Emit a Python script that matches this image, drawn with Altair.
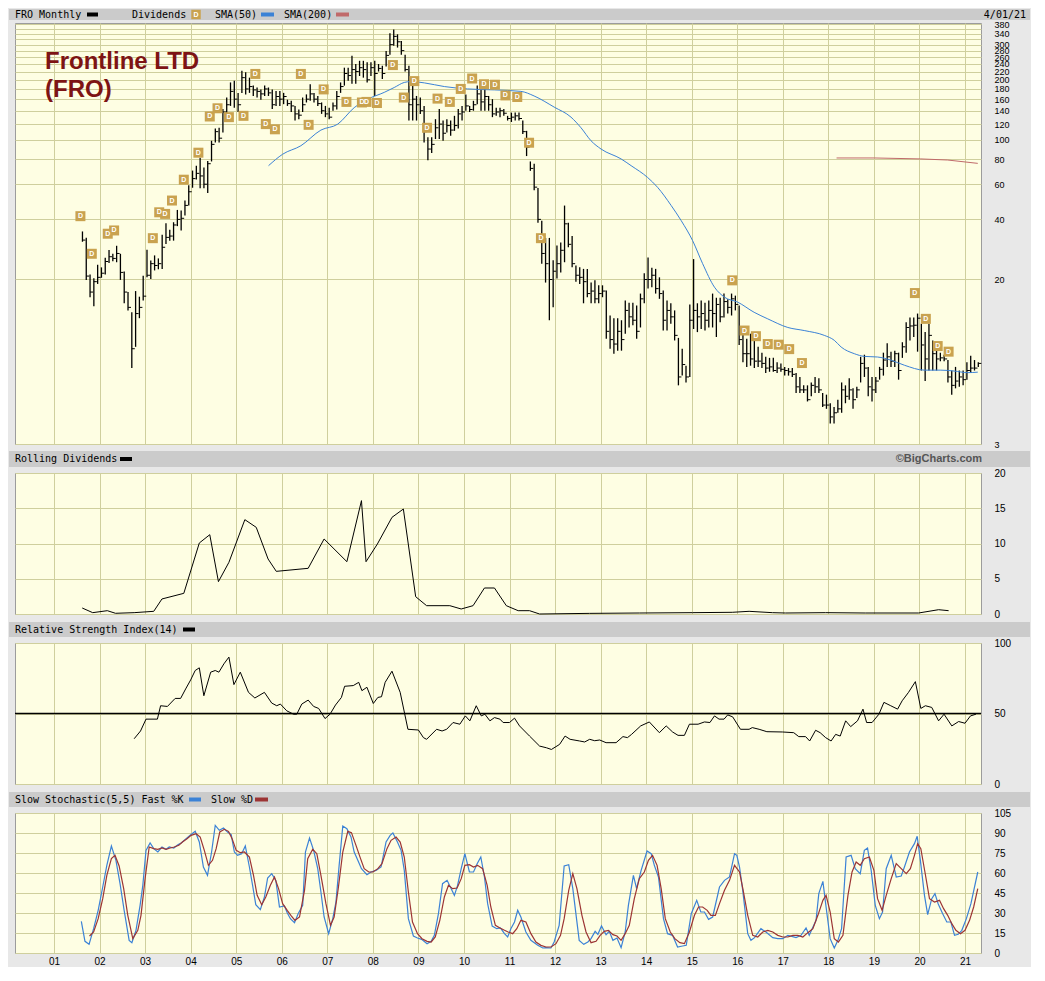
import altair as alt
import pandas as pd

# ---------------- data ----------------
# monthly bars, Aug 2001 .. Apr 2021
high = [
    34.8, 32.4, 21.2, 20.3, 23.7,
    23.0, 25.7, 28.1, 26.9, 29.5, 26.9, 21.9, 17.3, 13.7, 17.5, 16.4, 20.9,
    28.2, 24.9, 26.4, 25.5, 33.5, 38.3, 35.5, 38.7, 44.6, 44.3, 49.7, 59.2,
    70.2, 74.3, 81.5, 72.7, 78.5, 99, 114, 115, 143, 163, 194, 198,
    172, 222, 218, 205, 187, 183, 179, 187, 183, 179, 176, 176,
    172, 159, 157, 148, 142, 163, 169, 190, 172, 166, 154, 148,
    145, 154, 176, 194, 230, 230, 264, 240, 249, 249, 245, 245,
    249, 240, 235, 279, 342, 357, 338, 313, 267, 235, 198, 166,
    163, 148, 103, 103, 127, 143, 125, 127, 125, 132, 143, 148,
    169, 148, 157, 187, 191, 187, 166, 160, 145, 145, 143, 132,
    137, 137, 137, 125, 111, 78, 76, 57.5, 39.4, 32.3, 32.3, 25,
    29.6, 30.6, 46.9, 38.5, 33, 23.5, 23, 22.6, 22.6, 19.3, 19.8, 18.7,
    18.7, 17.6, 13.2, 12.8, 12.8, 12.5, 15.7, 15.3, 15.3, 14.8, 17, 21.5,
    25.8, 22.9, 22.6, 20.5, 17.6, 15.7, 15.2, 14, 10.2, 9, 7.4, 15,
    25.3, 15.2, 15.7, 15.3, 15.7, 17, 16.2, 16.2, 17, 15.9, 17, 16.6,
    14.8, 10.7, 10.1, 10.7, 9.9, 9.2, 8.6, 8.2, 8.1, 8.1, 7.7, 7.6,
    7.3, 7.2, 7.2, 6.8, 6.5, 5.9, 5.9, 6.1, 6.5, 6.4, 5.4, 5.3,
    4.8, 4.6, 5.0, 6.1, 5.9, 6.4, 5.7, 5.8, 8.2, 8.4, 7.3, 6.5,
    6.5, 7.3, 8.6, 9.6, 8.7, 8.8, 8.6, 9.7, 12.2, 12.9, 12.9, 13.5,
    12, 10.9, 12, 9.9, 9.4, 8.6, 8.4, 7.9, 7.0, 7.3, 7.0, 7.0,
    7.7, 8.3, 7.9, 7.7,
]
low = [
    30.9, 19.9, 16.3, 14.7, 19.0,
    20.4, 21.2, 24.2, 24.7, 24.4, 19.9, 15.2, 14.0, 7.2, 9.2, 12.8, 15.7,
    20.5, 20.1, 22.2, 22.5, 22.6, 30.1, 31.3, 31.3, 37.0, 35.2, 41.8, 46.9,
    57.6, 63.4, 57.3, 57.3, 54.2, 78, 97, 97, 109, 135, 148, 145,
    138, 172, 169, 172, 166, 163, 159, 166, 166, 143, 148, 148,
    151, 148, 138, 125, 127, 138, 154, 157, 154, 148, 135, 130,
    127, 140, 142, 172, 187, 198, 191, 191, 209, 205, 194, 209,
    166, 220, 202, 233, 267, 296, 290, 267, 220, 125, 125, 125,
    135, 97, 79, 86, 101, 101, 99, 109, 105, 111, 114, 125,
    140, 138, 140, 151, 140, 140, 140, 130, 132, 130, 132, 125,
    123, 125, 125, 107, 83, 70, 56, 38.5, 24, 19.3, 12.5, 14.5,
    20.2, 21.7, 24.4, 29, 23, 19.5, 19, 15.2, 16.3, 15.2, 15.2, 15.2,
    16.3, 10.1, 9.0, 8.5, 8.8, 8.8, 10.7, 11.5, 11.8, 10.1, 11.5, 15.2,
    18, 18.3, 17, 16, 11.1, 11.1, 12, 9.9, 5.9, 6.6, 6.1, 6.5,
    11.3, 10.9, 11.3, 11.1, 11.5, 11.5, 10.3, 12.2, 12.9, 13.5, 13.2, 14,
    9.4, 7.7, 7.3, 7.4, 7.2, 7.3, 7.2, 6.8, 6.9, 6.9, 6.8, 6.9,
    6.6, 6.6, 6.5, 5.4, 5.4, 5.4, 4.9, 5.2, 5.4, 5.4, 4.6, 4.5,
    3.8, 3.8, 4.3, 4.3, 4.8, 5.0, 4.5, 5.1, 6.1, 6.5, 5.2, 4.9,
    5.4, 6.3, 6.6, 7.3, 7.3, 7.3, 6.3, 8.1, 8.6, 9.9, 10.3, 8.7,
    7, 6.2, 7, 7, 7, 7.8, 7.8, 6.1, 5.3, 5.7, 5.8, 5.9,
    6.3, 6.8, 7.0, 7.3,
]
close = [
    31.5, 20.8, 17.3, 19.5, 20.5,
    21.5, 24.6, 26.0, 25.5, 27.0, 21.7, 17.3, 14.5, 9.0, 13.5, 14.5, 16.5,
    21.0, 24.0, 23.5, 24.0, 29.0, 32.5, 33.0, 37.5, 40.0, 40.5, 47.0, 55.0,
    64, 68, 66, 60, 76, 95, 110, 102, 138, 150, 175, 160,
    150, 205, 180, 185, 178, 175, 170, 180, 172, 150, 165, 160,
    165, 152, 148, 135, 133, 150, 160, 170, 160, 152, 140, 135,
    130, 148, 165, 185, 215, 210, 225, 220, 230, 225, 200, 230,
    215, 228, 215, 265, 300, 330, 310, 280, 225, 150, 160, 150,
    140, 110, 90, 95, 115, 120, 108, 118, 112, 118, 135, 138,
    148, 142, 150, 170, 155, 165, 150, 135, 138, 140, 136, 128,
    130, 132, 128, 110, 92, 72, 58, 40, 27, 24, 20, 22,
    24, 28, 38, 30, 24, 21, 20.5, 19.5, 17, 17.5, 16, 17,
    17.5, 11, 10, 9.5, 11, 10, 14, 13, 12.5, 11, 16, 20,
    20, 21, 18, 17, 12.5, 14, 13, 10.5, 6.5, 7.5, 6.5, 12.5,
    14, 13, 13.5, 12.5, 14, 13.5, 15, 13, 15.5, 14.5, 16, 15,
    10, 8.5, 8.5, 8, 7.8, 7.8, 7.6, 7.2, 7.3, 7.0, 7.2, 7.1,
    7.0, 6.9, 6.7, 5.8, 5.6, 5.6, 5.0, 5.9, 5.8, 5.6, 4.7, 4.7,
    4.1, 4.3, 4.5, 5.6, 5.2, 5.6, 5.0, 5.6, 7.6, 7.2, 5.8, 5.6,
    6.2, 7.1, 7.9, 8.2, 7.8, 8.5, 7.0, 9.2, 11.5, 11.7, 11.8, 12.8,
    9.4, 8, 10.5, 8.5, 8.0, 8.1, 8.0, 6.5, 5.9, 6.2, 6.5, 6.3,
    7.0, 7.2, 7.2, 7.6,
]

# dividend markers (date in years, price level of the "D" box)
div_t = [2001.58, 2001.83, 2002.18, 2002.32, 2003.17, 2003.31, 2003.44, 2003.59, 2003.85,
         2004.17, 2004.42, 2004.59, 2004.84, 2005.16, 2005.42, 2005.65, 2005.85,
         2006.42, 2006.59, 2006.92, 2007.42, 2007.76, 2007.86, 2008.09, 2008.44, 2008.68, 2008.91,
         2009.19, 2009.42, 2009.69, 2009.93, 2010.18, 2010.44, 2010.68, 2010.91,
         2011.17, 2011.43, 2011.69, 2015.89, 2016.16, 2016.41, 2016.67, 2016.91,
         2017.14, 2017.42, 2019.90, 2020.14, 2020.40, 2020.64]
div_p = [41.5, 26.9, 33.9, 35.2, 32.2, 43.4, 42.6, 49.7, 63.2,
         86.3, 131, 144, 130, 132, 214, 120, 113,
         214, 119, 179, 155, 154, 155, 153, 237, 163, 197,
         115, 161, 155, 180, 203, 190, 189, 167,
         164, 96.8, 32.2, 19.8, 11.1, 10.4, 9.5, 9.43,
         8.96, 7.63, 17.1, 12.7, 9.28, 8.70]

sma50_t = [2005.71, 2006.02, 2006.42, 2006.86, 2007.23, 2007.59, 2007.89, 2008.25, 2008.47, 2008.69,
           2008.84, 2009.13, 2009.57, 2010.08, 2010.67, 2011.25, 2011.54, 2011.98, 2012.35, 2012.57,
           2012.79, 2013.01, 2013.45, 2013.67, 2014.03, 2014.25, 2014.55, 2014.77, 2015.02, 2015.24,
           2015.50, 2015.72, 2016.01, 2016.37, 2016.67, 2017.11, 2017.47, 2017.91, 2018.13, 2018.28,
           2018.57, 2018.79, 2019.08, 2019.38, 2019.67, 2020.11, 2020.47, 2020.76, 2021.06, 2021.28]
sma50_v = [74.3, 84.8, 93.5, 112, 120, 145, 160, 173, 183, 194,
           196, 193, 185, 180, 178, 175, 166, 146, 130, 115,
           99, 90, 80.3, 74.3, 64.9, 57.9, 46.9, 39.4, 31.3, 24.0,
           18.3, 16.3, 15.4, 13.7, 12.7, 11.5, 11.1, 10.5, 9.92, 9.18,
           8.50, 8.24, 8.18, 7.88, 7.44, 7.03, 7.03, 6.96, 6.83, 6.87]

sma200_t = [2018.18, 2019.01, 2020.03, 2020.62, 2021.28]
sma200_v = [81.2, 81.2, 80.3, 79.3, 76.3]

rd_t = [2001.62, 2001.85, 2002.17, 2002.35, 2002.76, 2003.19, 2003.37, 2003.85, 2004.19, 2004.42,
        2004.61, 2004.84, 2005.19, 2005.44, 2005.70, 2005.88, 2006.58, 2006.93, 2007.43, 2007.75,
        2007.85, 2008.10, 2008.42, 2008.67, 2008.94, 2009.18, 2009.69, 2009.94, 2010.20, 2010.45,
        2010.67, 2010.93, 2011.19, 2011.44, 2011.66, 2012.76, 2013.85, 2015.02, 2015.89, 2016.26,
        2016.77, 2017.06, 2017.94, 2018.81, 2019.98, 2020.42, 2020.64]
rd_v = [0.85, 0.19, 0.47, 0.10, 0.19, 0.38, 2.13, 2.93, 10.07, 11.25,
        4.59, 7.33, 13.38, 12.29, 7.80, 6.05, 6.48, 10.64, 7.42, 16.08,
        7.42, 9.93, 13.71, 14.89, 2.46, 1.18, 1.18, 0.71, 1.18, 3.69,
        3.69, 1.18, 0.47, 0.47, 0.0, 0.09, 0.14, 0.19, 0.24, 0.38,
        0.19, 0.14, 0.19, 0.14, 0.14, 0.61, 0.47]

rsi_t = [2002.76, 2002.90, 2003.02, 2003.27, 2003.34, 2003.49, 2003.66, 2003.78, 2003.89, 2004.00,
         2004.10, 2004.19, 2004.29, 2004.44, 2004.54, 2004.62, 2004.73, 2004.84, 2004.95, 2005.09,
         2005.27, 2005.41, 2005.62, 2005.78, 2005.89, 2005.97, 2006.11, 2006.26, 2006.33, 2006.44,
         2006.58, 2006.70, 2006.81, 2006.95, 2007.06, 2007.18, 2007.31, 2007.38, 2007.57, 2007.69,
         2007.76, 2007.87, 2008.01, 2008.11, 2008.19, 2008.27, 2008.42, 2008.60, 2008.77, 2009.00,
         2009.11, 2009.18, 2009.40, 2009.52, 2009.62, 2009.76, 2009.91, 2010.03, 2010.13, 2010.27,
         2010.38, 2010.46, 2010.57, 2010.67, 2010.79, 2010.86, 2011.00, 2011.11, 2011.22, 2011.44,
         2011.66, 2011.81, 2011.92, 2012.10, 2012.22, 2012.33, 2012.54, 2012.65, 2012.76, 2012.87,
         2012.98, 2013.12, 2013.34, 2013.49, 2013.59, 2013.68, 2013.88, 2014.07, 2014.29, 2014.44,
         2014.58, 2014.70, 2014.84, 2014.95, 2015.14, 2015.28, 2015.40, 2015.50, 2015.60, 2015.71,
         2015.79, 2015.90, 2016.07, 2016.26, 2016.33, 2016.48, 2016.65, 2016.99, 2017.24, 2017.35,
         2017.50, 2017.59, 2017.72, 2017.82, 2017.94, 2018.06, 2018.16, 2018.26, 2018.38, 2018.49,
         2018.64, 2018.76, 2018.84, 2018.96, 2019.11, 2019.22, 2019.37, 2019.52, 2019.62, 2019.76,
         2019.91, 2020.03, 2020.13, 2020.27, 2020.42, 2020.54, 2020.71, 2020.86, 2021.00, 2021.12,
         2021.24]
rsi_v = [32.1, 37.6, 46.0, 46.0, 55.5, 55.0, 60.7, 60.7, 67.4, 73.8,
         80.5, 82.4, 62.6, 79.3, 80.5, 79.3, 85.2, 90.0, 70.5, 79.3,
         65.0, 61.0, 65.0, 57.4, 55.5, 56.7, 51.9, 49.5, 49.5, 56.7,
         59.5, 55.0, 53.6, 46.4, 49.5, 56.0, 61.4, 69.3, 69.8, 72.1,
         66.2, 68.6, 57.1, 61.4, 61.9, 72.1, 80.0, 65.0, 38.8, 38.3,
         32.9, 31.7, 38.8, 37.6, 38.8, 43.6, 42.4, 48.3, 44.8, 55.5,
         48.3, 49.5, 44.8, 47.1, 46.0, 43.6, 43.6, 46.7, 41.2, 34.0,
         26.9, 25.7, 24.5, 28.1, 34.0, 31.7, 30.5, 29.8, 31.7, 30.7,
         31.2, 29.3, 29.3, 33.6, 32.9, 35.2, 41.2, 44.0, 36.4, 41.2,
         36.9, 34.5, 34.5, 42.4, 42.4, 44.0, 43.6, 48.3, 46.0, 46.0,
         49.0, 47.6, 38.8, 38.8, 40.0, 38.8, 37.1, 36.9, 36.4, 33.6,
         33.6, 30.5, 38.1, 36.4, 32.9, 30.5, 35.2, 34.0, 44.8, 40.7,
         44.8, 53.1, 43.6, 43.6, 49.5, 57.9, 55.5, 53.1, 59.0, 65.0,
         72.6, 53.6, 55.5, 54.3, 44.8, 49.5, 41.2, 44.3, 43.1, 48.3,
         49.5]

k_t = [2001.60, 2001.68, 2001.77, 2001.87, 2001.97, 2002.07, 2002.16, 2002.26, 2002.36, 2002.45,
       2002.54, 2002.65, 2002.71, 2002.80, 2002.89, 2002.95, 2003.02, 2003.11, 2003.19, 2003.28,
       2003.37, 2003.46, 2003.53, 2003.63, 2003.72, 2003.80, 2003.90, 2003.99, 2004.10, 2004.19,
       2004.28, 2004.37, 2004.46, 2004.54, 2004.63, 2004.72, 2004.81, 2004.89, 2004.96, 2005.03,
       2005.12, 2005.20, 2005.29, 2005.36, 2005.43, 2005.53, 2005.62, 2005.69, 2005.78, 2005.87,
       2005.95, 2006.06, 2006.12, 2006.19, 2006.28, 2006.36, 2006.46, 2006.52, 2006.61, 2006.70,
       2006.79, 2006.86, 2006.93, 2007.03, 2007.12, 2007.19, 2007.26, 2007.34, 2007.43, 2007.52,
       2007.59, 2007.67, 2007.75, 2007.87, 2007.96, 2008.07, 2008.18, 2008.29, 2008.38, 2008.44,
       2008.54, 2008.62, 2008.69, 2008.78, 2008.89, 2008.98, 2009.07, 2009.19, 2009.28, 2009.35,
       2009.44, 2009.53, 2009.63, 2009.72, 2009.79, 2009.86, 2009.94, 2010.02, 2010.12, 2010.21,
       2010.29, 2010.37, 2010.45, 2010.52, 2010.62, 2010.72, 2010.80, 2010.89, 2010.96, 2011.03,
       2011.11, 2011.18, 2011.25,
       2011.36, 2011.47, 2011.62, 2011.73, 2011.80, 2011.91, 2011.98, 2012.09, 2012.20, 2012.30,
       2012.39, 2012.53, 2012.63, 2012.72, 2012.79, 2012.88, 2012.94, 2013.02, 2013.12, 2013.19,
       2013.27, 2013.36, 2013.45, 2013.54, 2013.61, 2013.72, 2013.79, 2013.89, 2014.02, 2014.11,
       2014.18, 2014.27, 2014.38, 2014.47, 2014.58, 2014.69, 2014.80, 2014.88, 2014.99, 2015.11,
       2015.20, 2015.28, 2015.37, 2015.46, 2015.61, 2015.72, 2015.83, 2015.94, 2015.99, 2016.05,
       2016.12, 2016.23, 2016.30, 2016.38, 2016.52, 2016.63, 2016.78, 2016.89, 2017.00, 2017.11,
       2017.20, 2017.29, 2017.40, 2017.51, 2017.58, 2017.73, 2017.79, 2017.88, 2017.95, 2018.04,
       2018.13, 2018.21, 2018.29, 2018.39, 2018.50, 2018.59, 2018.70, 2018.79, 2018.86, 2018.94,
       2019.03, 2019.12, 2019.19, 2019.27, 2019.38, 2019.49, 2019.60, 2019.67, 2019.78, 2019.89,
       2019.95, 2020.02, 2020.11, 2020.18, 2020.27, 2020.34, 2020.41, 2020.51, 2020.60, 2020.69,
       2020.77, 2020.85, 2020.93, 2021.03, 2021.13, 2021.28]
k_v = [23.75, 8.75, 6.5, 18.25, 32, 49.5, 65.75, 80.25, 69.5, 52,
       32, 9.5, 7.75, 17, 35.75, 50.75, 77, 82.5, 78.25, 75.75,
       79.5, 77.75, 79.5, 78.75, 81.25, 82.75, 85.75, 88.25, 91.25, 83.25,
       64.5, 58.25, 75.75, 95.75, 92, 93.75, 90.75, 88.75, 75.75, 73.25,
       74.5, 80.25, 64.5, 50.75, 36.25, 32.5, 42, 56.25, 59.5, 54.5,
       34.5, 35.25, 30.25, 25.75, 22.75, 29.5, 35.75, 75.75, 86.25, 77,
       63.25, 45.75, 27, 14.5, 25.75, 38.25, 65.75, 95.25, 93.25, 87,
       75.75, 69.5, 63.25, 58.75, 60.75, 62, 64.5, 83.25, 88.25, 90,
       83.25, 77, 62, 25.75, 12.75, 11.25, 10.25, 7, 8.75, 13.25,
       29.5, 52, 54.5, 48.25, 43.25, 50.75, 63.25, 74.5, 60.75, 60.75,
       67, 72, 57, 37, 20.25, 18.25, 18.75, 14.5, 12, 18.25,
       23.25, 32, 27,
       15.75, 9.5, 5.75, 3.75, 4, 3.75, 8.25, 20.75, 65.25, 66.25,
       48.25, 9.5, 6.5, 8.25, 10.75, 16.25, 14, 20.25, 13.75, 16.25,
       9.5, 11.25, 4, 15.75, 35.75, 58.25, 48.25, 62, 76.5, 74.5,
       65.75, 57, 25.75, 14.5, 13.25, 4.5, 5.25, 5.75, 29.5, 39.5,
       30.75, 30.75, 25.25, 27, 49.5, 54.5, 57, 74.5, 73.25, 64.5,
       47, 14.5, 9.5, 11.5, 18.25, 15.75, 11.5, 10.75, 10.75, 13.25,
       12.5, 11.5, 13.25, 18.75, 13.25, 24.5, 44.5, 53.75, 34.5, 10.75,
       3.75, 9.5, 18.25, 72, 73.25, 63.25, 59.5, 77, 78.75, 62,
       35.75, 25.75, 30.75, 63.25, 73.25, 57, 57.75, 64.5, 75.75, 82,
       87.5, 69.5, 43.25, 28.75, 40.75, 44.5, 37, 29.5, 23.25, 23.25,
       13.25, 14, 17, 25.75, 37, 60.75]

d_t = [2001.78, 2001.87, 2001.97, 2002.07, 2002.16, 2002.26, 2002.34, 2002.43, 2002.53, 2002.62,
       2002.73, 2002.84, 2002.91, 2003.00, 2003.09, 2003.19, 2003.28, 2003.37, 2003.46, 2003.55,
       2003.64, 2003.74, 2003.82, 2003.92, 2004.01, 2004.12, 2004.21, 2004.30, 2004.39, 2004.48,
       2004.56, 2004.64, 2004.74, 2004.83, 2004.91, 2005.00, 2005.09, 2005.18, 2005.29, 2005.38,
       2005.46, 2005.56, 2005.65, 2005.75, 2005.84, 2005.93, 2006.02, 2006.12, 2006.20, 2006.29,
       2006.39, 2006.50, 2006.57, 2006.68, 2006.77, 2006.86, 2006.97, 2007.07, 2007.15, 2007.24,
       2007.34, 2007.45, 2007.53, 2007.63, 2007.73, 2007.81, 2007.91, 2008.00, 2008.11, 2008.20,
       2008.31, 2008.40, 2008.51, 2008.60, 2008.69, 2008.78, 2008.87, 2008.98, 2009.08, 2009.19,
       2009.28, 2009.37, 2009.47, 2009.57, 2009.66, 2009.75, 2009.85, 2009.94, 2010.02, 2010.12,
       2010.21, 2010.30, 2010.41, 2010.51, 2010.59, 2010.69, 2010.79, 2010.89, 2010.97, 2011.07,
       2011.16, 2011.25,
       2011.36, 2011.47, 2011.58, 2011.69, 2011.80, 2011.91, 2012.02, 2012.12, 2012.20, 2012.30,
       2012.39, 2012.48, 2012.59, 2012.68, 2012.79, 2012.90, 2012.99, 2013.08, 2013.17, 2013.27,
       2013.36, 2013.45, 2013.54, 2013.63, 2013.74, 2013.85, 2013.96, 2014.05, 2014.14, 2014.24,
       2014.33, 2014.42, 2014.53, 2014.63, 2014.74, 2014.84, 2014.95, 2015.06, 2015.15, 2015.24,
       2015.34, 2015.42, 2015.52, 2015.61, 2015.72, 2015.83, 2015.94, 2016.05, 2016.13, 2016.23,
       2016.34, 2016.45, 2016.56, 2016.67, 2016.78, 2016.89, 2017.00, 2017.11, 2017.22, 2017.33,
       2017.44, 2017.55, 2017.66, 2017.77, 2017.88, 2017.95, 2018.04, 2018.13, 2018.22, 2018.32,
       2018.43, 2018.52, 2018.61, 2018.70, 2018.79, 2018.90, 2019.00, 2019.08, 2019.18, 2019.27,
       2019.38, 2019.49, 2019.60, 2019.71, 2019.80, 2019.89, 2019.96, 2020.03, 2020.12, 2020.22,
       2020.33, 2020.44, 2020.53, 2020.62, 2020.71, 2020.80, 2020.90, 2021.00, 2021.10, 2021.19,
       2021.28]
d_v = [12.75, 15.75, 25.75, 40.75, 58.25, 70.75, 73.25, 65.25, 48.25, 28.25,
       10.75, 17, 28.25, 55.75, 79.5, 78.25, 77.75, 78.75, 77.75, 78.75,
       79.5, 80.75, 83.25, 85.75, 88.25, 89.5, 87, 77, 65.75, 69.5,
       78.25, 90.75, 92.75, 91.25, 85.75, 77, 75.25, 75.75, 72, 58.25,
       43.25, 36.25, 42, 50.75, 57, 48.25, 37, 32, 28.25, 24.5,
       27, 47, 70.75, 77.75, 74.5, 58.25, 37, 20.75, 27, 48.25,
       75.75, 91.25, 90.25, 80.75, 70.75, 63.25, 60.75, 60.75, 63.25, 67,
       78.25, 84.5, 87, 83.25, 72, 45.75, 23.25, 14.5, 10.75, 8.75,
       8.25, 12, 24.5, 42, 50.75, 48.25, 48.75, 55.75, 65.75, 66.25,
       64.5, 65.75, 63.25, 50.75, 34.5, 20.75, 18.75, 17, 15.75, 14.5,
       18.25, 24.5,
       23.25, 14.5, 8.25, 5.75, 4.5, 4.5, 7, 13.25, 25.75, 47,
       59.5, 48.25, 28.25, 15.75, 7.75, 8.75, 13.25, 16.25, 17, 13.75,
       12.75, 9.5, 14.5, 20.75, 40.75, 55.75, 60.75, 69.5, 73.25, 65.75,
       48.25, 25.75, 15.75, 10.75, 7.75, 7, 15.75, 28.25, 34.5, 34.5,
       32, 28.25, 28.25, 37, 47, 54.5, 65.75, 60.75, 47, 28.25,
       13.25, 12, 15.75, 17, 15.75, 13.25, 12, 12, 13.25, 13.25,
       12, 15.25, 18.25, 28.25, 39.5, 43.25, 30.75, 10.75, 8.25, 13.25,
       43.25, 60.75, 68.25, 65.75, 70.75, 72, 62, 40.75, 32, 43.25,
       55.75, 67, 63.25, 59.5, 63.25, 73.25, 82, 78.25, 60.75, 40.75,
       38.25, 39.5, 33.25, 28.25, 22, 17, 14.5, 17, 24.5, 34.5,
       48.25]

years = list(range(2001, 2022))
price_ticks = [3, 20, 40, 60, 80, 100, 120, 140, 160, 180, 200, 220, 240, 260, 280, 300, 320, 340, 360, 380]

# ---------------- styling ----------------
W = 966
BG = "#e8e8e8"
HEAD = "#cbcbcb"
GRID = "#cfcf9d"
FILL = "#fefee3"
TAN = "#c9a24f"
BLUE = "#3b82d6"
RED = "#c06a6a"
DRED = "#9c3434"
MONO = "DejaVu Sans Mono"
SANS = "Liberation Sans"
HR = 1015  # right end of the grey header bands (px, relative to plot left)

months = pd.period_range("2001-08", periods=len(high), freq="M")
bars = pd.DataFrame({
    "t": [p.year + (p.month - 0.5) / 12 for p in months],
    "hi": high, "lo": low, "cl": close,
})
divs = pd.DataFrame({"t": div_t, "p": div_p})
sma50 = pd.DataFrame({"t": sma50_t, "v": sma50_v})
sma200 = pd.DataFrame({"t": sma200_t, "v": sma200_v})
rdiv = pd.DataFrame({"t": rd_t, "v": rd_v})
rsi = pd.DataFrame({"t": rsi_t, "v": rsi_v})
stk = pd.DataFrame({"t": k_t, "v": k_v})
std = pd.DataFrame({"t": d_t, "v": d_v})
one = pd.DataFrame({"k": [0]})

xscale = alt.Scale(domain=[2000.144, 2021.351], nice=False, zero=False)


def xax(show):
    return alt.Axis(values=years, grid=True, gridColor=GRID, gridWidth=1, ticks=False,
                    domain=False, labels=show,
                    labelExpr="(datum.value % 100 < 10 ? '0' : '') + (datum.value % 100)",
                    labelFont=SANS, labelFontSize=10, labelColor="#000000",
                    labelPadding=3, labelFlush=False, labelOverlap=False, title=None)


def yax(vals, expr=None, size=10):
    kw = dict(values=vals, orient="right", grid=True, gridColor=GRID, gridWidth=1,
              ticks=False, tickSize=0, domain=False, labelPadding=13, labelAlign="left",
              labelFont=SANS, labelFontSize=size, labelColor="#000000",
              labelOverlap=False, labelFlush=False, title=None)
    if expr:
        kw["labelExpr"] = expr
    return alt.Axis(**kw)


def header(y0, y1, items):
    yc = (y0 + y1) / 2
    base = alt.Chart(one)
    lays = [base.mark_rect(color=HEAD).encode(
        x=alt.value(-6), x2=alt.value(HR), y=alt.value(y0), y2=alt.value(y1))]
    for it in items:
        kind = it[0]
        if kind == "text":
            lays.append(base.mark_text(text=it[2], align="left", baseline="middle", font=MONO,
                                       fontSize=10, color="#000000")
                        .encode(x=alt.value(it[1]), y=alt.value(yc)))
        elif kind == "rtext":
            lays.append(base.mark_text(text=it[2], align="right", baseline="middle", font=MONO,
                                       fontSize=10, color="#000000")
                        .encode(x=alt.value(it[1]), y=alt.value(yc)))
        elif kind == "brand":
            lays.append(base.mark_text(text=it[2], align="right", baseline="middle", font=SANS,
                                       fontSize=11, fontWeight="bold", color="#555555")
                        .encode(x=alt.value(it[1]), y=alt.value(yc)))
        elif kind == "swatch":
            lays.append(base.mark_rect(color=it[3]).encode(
                x=alt.value(it[1]), x2=alt.value(it[1] + it[2]),
                y=alt.value(yc - 2), y2=alt.value(yc + 2)))
        elif kind == "dicon":
            lays.append(base.mark_square(size=90, color=TAN, opacity=1).encode(
                x=alt.value(it[1]), y=alt.value(yc)))
            lays.append(base.mark_text(text="D", align="center", baseline="middle", font=SANS,
                                       fontSize=7, fontWeight="bold", color="#ffffff")
                        .encode(x=alt.value(it[1]), y=alt.value(yc)))
    return lays


# ---------------- panel 1: price ----------------
ys = alt.Scale(type="log", domain=[3, 385], nice=False)
pax = yax(price_ticks, "(datum.value == 320 || datum.value == 360) ? '' : format(datum.value, 'd')", 9)
X1 = alt.X("t:Q", scale=xscale, axis=xax(False))

p_bars = alt.Chart(bars).mark_rule(color="#000000", strokeWidth=1.3).encode(
    x=X1, y=alt.Y("lo:Q", scale=ys, axis=pax), y2="hi:Q")
p_close = alt.Chart(bars).mark_tick(orient="horizontal", size=3, thickness=1, xOffset=1.5,
                                    color="#000000", opacity=1).encode(
    x=X1, y=alt.Y("cl:Q", scale=ys, axis=pax))
p_sma50 = alt.Chart(sma50).mark_line(color=BLUE, strokeWidth=1, interpolate="monotone").encode(
    x=X1, y=alt.Y("v:Q", scale=ys, axis=pax))
p_sma200 = alt.Chart(sma200).mark_line(color=RED, strokeWidth=1).encode(
    x=X1, y=alt.Y("v:Q", scale=ys, axis=pax))
p_dbox = alt.Chart(divs).mark_square(size=100, color=TAN, opacity=1).encode(
    x=X1, y=alt.Y("p:Q", scale=ys, axis=pax))
p_dtxt = alt.Chart(divs).mark_text(text="D", font=SANS, fontSize=7, fontWeight="bold",
                                   color="#ffffff", baseline="middle").encode(
    x=X1, y=alt.Y("p:Q", scale=ys, axis=pax))
t1 = alt.Chart(one).mark_text(text="Frontline LTD", font=SANS, fontSize=24, fontWeight="bold",
                              color="#7d1414", align="left", baseline="alphabetic").encode(
    x=alt.value(30), y=alt.value(46))
t2 = alt.Chart(one).mark_text(text="(FRO)", font=SANS, fontSize=24, fontWeight="bold",
                              color="#7d1414", align="left", baseline="alphabetic").encode(
    x=alt.value(30), y=alt.value(74))

h1 = header(-14, -3, [
    ("text", 0, "FRO Monthly"), ("swatch", 72, 11, "#000000"),
    ("text", 117, "Dividends"), ("dicon", 181),
    ("text", 200, "SMA(50)"), ("swatch", 246, 13, BLUE),
    ("text", 269, "SMA(200)"), ("swatch", 321, 13, RED),
    ("rtext", HR - 4, "4/01/21"),
])

panel1 = alt.layer(p_bars, p_close, p_sma50, p_sma200, p_dbox, p_dtxt, t1, t2, *h1).properties(
    width=W, height=421)

# ---------------- panel 2: rolling dividends ----------------
ys2 = alt.Scale(domain=[0, 20], nice=False)
X2 = alt.X("t:Q", scale=xscale, axis=xax(False))
d_line = alt.Chart(rdiv).mark_line(color="#000000", strokeWidth=1).encode(
    x=X2, y=alt.Y("v:Q", scale=ys2, axis=yax([0, 5, 10, 15, 20])))
h2 = header(-22, -6, [
    ("text", 0, "Rolling Dividends"), ("swatch", 105, 12, "#000000"),
    ("brand", 967, "\u00a9BigCharts.com"),
])
panel2 = alt.layer(d_line, *h2).properties(width=W, height=141)

# ---------------- panel 3: RSI ----------------
ys3 = alt.Scale(domain=[0, 100], nice=False)
X3 = alt.X("t:Q", scale=xscale, axis=xax(False))
r_line = alt.Chart(rsi).mark_line(color="#000000", strokeWidth=1).encode(
    x=X3, y=alt.Y("v:Q", scale=ys3, axis=yax([0, 20, 50, 80, 100])))
r_mid = alt.Chart(one).mark_rule(color="#000000", strokeWidth=1.5).encode(
    y=alt.datum(50, scale=ys3))
h3 = header(-21, -6, [
    ("text", 0, "Relative Strength Index(14)"), ("swatch", 168, 12, "#000000"),
])
panel3 = alt.layer(r_line, r_mid, *h3).properties(width=W, height=141)

# ---------------- panel 4: slow stochastic ----------------
ys4 = alt.Scale(domain=[0, 105], nice=False)
X4 = alt.X("t:Q", scale=xscale, axis=xax(True))
sax = yax([0, 15, 30, 45, 60, 75, 90, 105])
s_k = alt.Chart(stk).mark_line(color=BLUE, strokeWidth=1.2).encode(
    x=X4, y=alt.Y("v:Q", scale=ys4, axis=sax))
s_d = alt.Chart(std).mark_line(color=DRED, strokeWidth=1.2).encode(
    x=X4, y=alt.Y("v:Q", scale=ys4, axis=sax))
h4 = header(-21, -6, [
    ("text", 0, "Slow Stochastic(5,5) Fast %K"), ("swatch", 174, 12, BLUE),
    ("text", 196, "Slow %D"), ("swatch", 240, 13, DRED),
])
panel4 = alt.layer(s_k, s_d, *h4).properties(width=W, height=140)

chart = alt.vconcat(panel1, panel2, panel3, panel4, spacing=29, bounds="flush").properties(
    padding={"left": 0, "top": 0, "right": 0, "bottom": 0}
).configure(background=BG).configure_view(fill=FILL, stroke="#9c9c9c", strokeWidth=1)

chart.save("out.html", embed_options={"renderer": "svg", "actions": False})
